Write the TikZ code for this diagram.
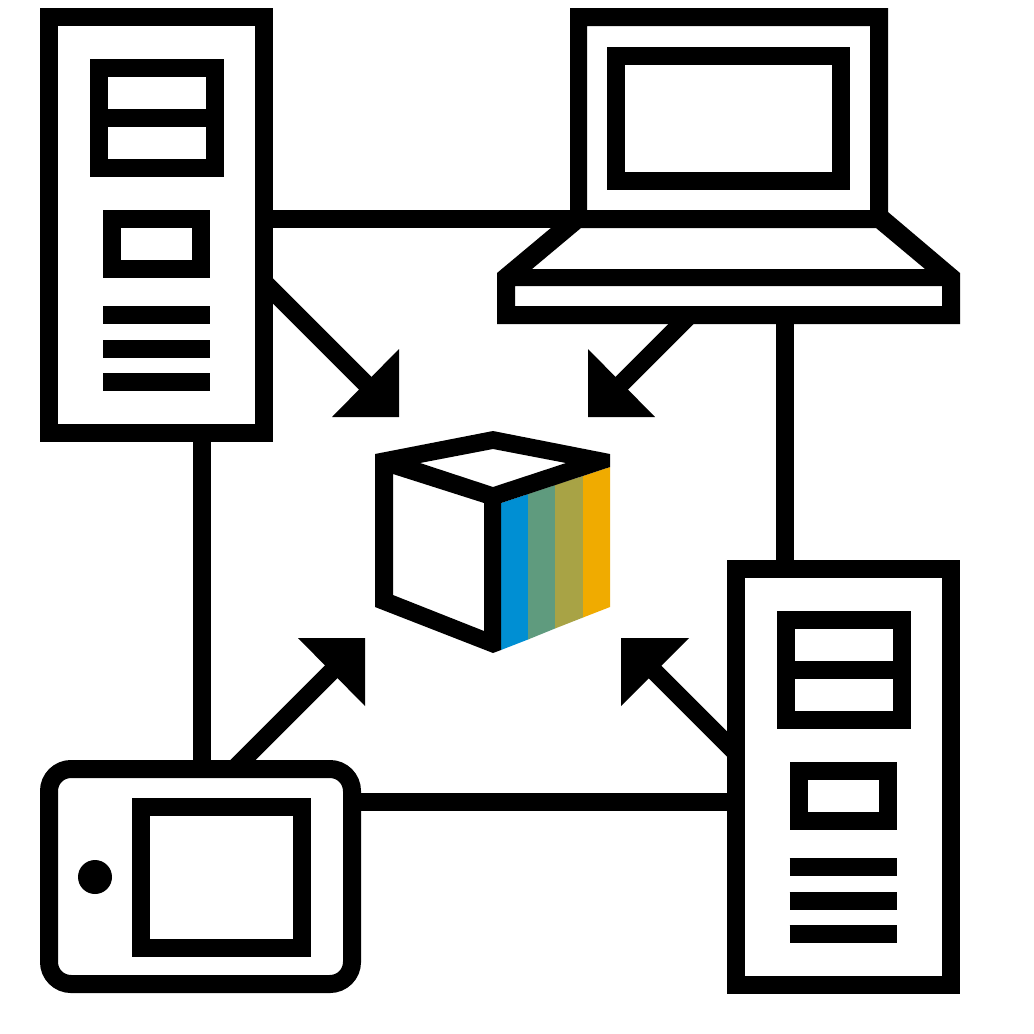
\documentclass[tikz,border=0pt]{standalone}
\definecolor{stripeblue}{HTML}{008FD3}
\definecolor{stripegreen}{HTML}{5F9B7E}
\definecolor{stripeolive}{HTML}{A8A345}
\definecolor{stripegold}{HTML}{F0AB00}
\tikzset{
  box/.style={draw=black,line width=18pt,rectangle,inner sep=0pt,outer sep=0pt,fill=white},
  wire/.style={draw=black,line width=18pt},
  head/.style={fill=black},
  ink/.style={fill=black,even odd rule},
  server/.pic={
    \node[box,minimum width=215pt,minimum height=416pt] (-body) at (156.5,225) {};
    \node[box,minimum width=116pt,minimum height=100pt] (-panel) at (157,118) {};
    \draw[wire] (-panel.west) ++(0,-0.5) -- ++(116,0);
    \node[box,minimum width=89pt,minimum height=50pt] (-slot) at (156.5,244) {};
    \draw[wire] (103,315) -- (210,315);
    \draw[wire] (103,348.5) -- (210,348.5);
    \draw[wire] (103,382) -- (210,382);
  }
}
\begin{document}
\begin{tikzpicture}[x=1pt,y=-1pt]
\useasboundingbox (0,0) rectangle (1034,1034);
\fill[white] (0,0) rectangle (1034,1034);

% connector anchors
\coordinate (a1) at (264,219);
\coordinate (l1) at (579,219);
\coordinate (a2) at (201.5,433);
\coordinate (t1) at (201.5,769);
\coordinate (l2) at (785,315);
\coordinate (b1) at (785,570);
\coordinate (t2) at (352,802);
\coordinate (b2) at (736,802);
\coordinate (a3) at (264,282);
\coordinate (h1) at (399,417);
\coordinate (l3) at (690,315);
\coordinate (h2) at (588,417);
\coordinate (t3) at (234,769);
\coordinate (h3) at (365,638);
\coordinate (b3) at (736,753);
\coordinate (h4) at (621,638);

% connectors
\draw[wire] (a1) -- (l1);
\draw[wire] (a2) -- (t1);
\draw[wire] (l2) -- (b1);
\draw[wire] (t2) -- (b2);
\draw[wire] (a3) -- ([shift={(-20,-20)}]h1);
\draw[wire] (l3) -- ([shift={(20,-20)}]h2);
\draw[wire] (t3) -- ([shift={(-20,20)}]h3);
\draw[wire] (b3) -- ([shift={(20,20)}]h4);
\fill[head] (h1) -- ++(0,-68) -- ++(-67,68) -- cycle;
\fill[head] (h2) -- ++(0,-68) -- ++(67,68) -- cycle;
\fill[head] (h3) -- ++(0,68) -- ++(-67,-68) -- cycle;
\fill[head] (h4) -- ++(0,68) -- ++(68,-68) -- cycle;

% servers
\pic (srvA) at (0,0) {server};
\pic (srvB) at (686.7,552) {server};

% laptop
\path[ink] (570,8) -- (888,8) -- (888,212) -- (960,273) -- (960,324) -- (497,324) -- (497,273) -- (570,212) -- cycle
  (587,26) rectangle (870,210)
  (581,228) -- (876,228) -- (925,269) -- (532,269) -- cycle
  (515,286) rectangle (942,306);
\node[box,minimum width=225pt,minimum height=125pt] (screen) at (728.5,118.5) {};

% tablet
\node[box,rounded corners=22pt,minimum width=303pt,minimum height=215pt] (tablet) at (200.5,876.5) {};
\node[box,minimum width=161pt,minimum height=141pt] (tabscreen) at (221.5,877.5) {};
\fill[black] (95,877) circle (17);

% cube
\fill[stripeblue] (501,503) -- (528,494) -- (528,639.5) -- (501,650) -- cycle;
\fill[stripegreen] (528,494) -- (555,485) -- (555,628.5) -- (528,639.5) -- cycle;
\fill[stripeolive] (555,485) -- (583,476) -- (583,617.5) -- (555,628.5) -- cycle;
\fill[stripegold] (583,476) -- (610,467) -- (610,607) -- (583,617.5) -- cycle;
\path[ink] (375,454) -- (493,431) -- (610,454) -- (610,467) -- (501,503) -- (501,650) -- (493,653) -- (375,607) -- cycle
  (393,474) -- (484,503) -- (484,631) -- (393,595) -- cycle
  (420,463) -- (493,449) -- (566,463) -- (493,487) -- cycle;
\end{tikzpicture}
\end{document}
